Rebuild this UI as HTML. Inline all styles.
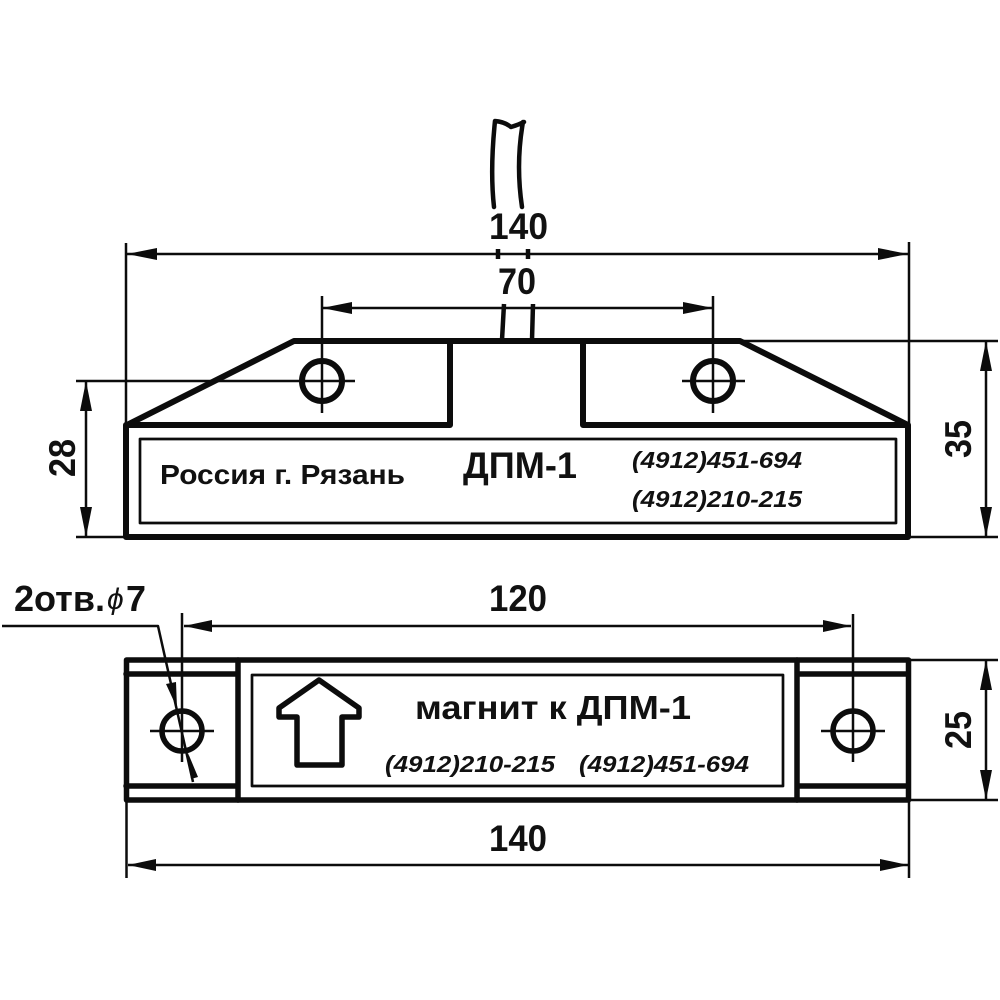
<!DOCTYPE html>
<html><head><meta charset="utf-8"><style>html,body{margin:0;padding:0;background:#fff}svg{display:block}text{font-family:"Liberation Sans","Noto Sans CJK SC",sans-serif;font-weight:bold;fill:#111}.it{font-style:italic}</style></head>
<body>
<svg width="1000" height="1000" viewBox="0 0 1000 1000" xmlns="http://www.w3.org/2000/svg">
<rect width="1000" height="1000" fill="#fff"/>
<g fill="none" stroke="#0c0c0c" stroke-linecap="round" stroke-linejoin="round">
<!-- cable -->
<g stroke-width="4.500">
<path d="M495 121C492 150 491 180 494 207M523 122C518 150 518 180 522 207M495 121Q505 122 511 127Q518 125 524 122"/>
<path d="M498 249V259M528 249V259" stroke-linecap="butt"/>
<path d="M504 304L502 340M533 304L532 340" stroke-linecap="butt"/>
</g>
<!-- top view body -->
<g stroke-width="6">
<path d="M127 425L294 341H740L908 425V537H126V425H450V341M583 341V425H908"/>
<circle cx="322" cy="381" r="20"/>
<circle cx="713" cy="381" r="20"/>
</g>
<rect x="140" y="439" width="756" height="84" stroke-width="2.700"/>
<!-- thin lines -->
<g stroke-width="2.500" stroke-linecap="butt">
<path d="M126 243V426M909 242V426M127 254H908M322 308H713M322 296V413M713 296V413M682 381H745"/>
<path d="M76 381H355M76 537H126M740 341H998M908 537H998M86 381V537M986 341V537"/>
<path d="M182 613V762M853 614V762M150 731H214M821 731H885M184 626H851"/>
<path d="M126.500 800V878M909 800V878M128 865H908M908 660H998M908 800H998M986 660V800"/>
<path d="M2 626H158L193 782"/>
</g>
<!-- bottom view -->
<g stroke-width="5.500">
<rect x="126.500" y="660" width="782" height="140"/>
<path d="M238 660V800M797 660V800M126 674H238M126 786H238M797 674H908M797 786H908"/>
<circle cx="182" cy="731" r="20"/>
<circle cx="853" cy="731" r="20"/>
<path d="M319 680L359 708V717H342V765H297V717H279V708Z"/>
</g>
<rect x="252" y="675" width="531" height="111" stroke-width="2.700"/>
</g>
<!-- arrowheads -->
<g fill="#0c0c0c">
<path d="M127 254L157 248V260ZM908 254L878 248V260Z"/>
<path d="M322 308L352 302V314ZM713 308L683 302V314Z"/>
<path d="M986 341L980 371H992ZM986 537L980 507H992Z"/>
<path d="M86 381L80 411H92ZM86 537L80 507H92Z"/>
<path d="M184 626L212 620V632ZM851 626L823 620V632Z"/>
<path d="M128 865L156 859V871ZM908 865L880 859V871Z"/>
<path d="M986 660L980 690H992ZM986 800L980 770H992Z"/>
<path d="M177 708L166 684L176 682ZM188 753L198 777L191 779Z"/>
</g>
<!-- labels -->
<text x="489" y="239" font-size="37" textLength="59" lengthAdjust="spacingAndGlyphs">140</text>
<text x="498" y="294" font-size="37" textLength="38" lengthAdjust="spacingAndGlyphs">70</text>
<text x="160" y="484" font-size="28" textLength="245" lengthAdjust="spacingAndGlyphs">Россия г. Рязань</text>
<text x="463" y="478" font-size="37" textLength="114" lengthAdjust="spacingAndGlyphs">ДПМ-1</text>
<text class="it" x="632" y="468" font-size="23.500" textLength="170" lengthAdjust="spacingAndGlyphs">(4912)451-694</text>
<text class="it" x="632" y="507" font-size="23.500" textLength="170" lengthAdjust="spacingAndGlyphs">(4912)210-215</text>
<text transform="translate(75 477) rotate(-90)" font-size="37" textLength="38" lengthAdjust="spacingAndGlyphs">28</text>
<text transform="translate(971 458) rotate(-90)" font-size="37" textLength="38" lengthAdjust="spacingAndGlyphs">35</text>
<text x="14" y="611" font-size="36" textLength="91" lengthAdjust="spacingAndGlyphs">2отв.</text>
<text class="it" x="107" y="609" font-size="30" style="font-weight:normal">ϕ</text>
<text x="126" y="611" font-size="36" textLength="20" lengthAdjust="spacingAndGlyphs">7</text>
<text x="489" y="611" font-size="37" textLength="58" lengthAdjust="spacingAndGlyphs">120</text>
<text x="489" y="851" font-size="37" textLength="58" lengthAdjust="spacingAndGlyphs">140</text>
<text x="415" y="719" font-size="33" textLength="276" lengthAdjust="spacingAndGlyphs">магнит к ДПМ-1</text>
<text class="it" x="385" y="772" font-size="23.500" textLength="170" lengthAdjust="spacingAndGlyphs">(4912)210-215</text>
<text class="it" x="579" y="772" font-size="23.500" textLength="170" lengthAdjust="spacingAndGlyphs">(4912)451-694</text>
<text transform="translate(971 749) rotate(-90)" font-size="37" textLength="38" lengthAdjust="spacingAndGlyphs">25</text>
</svg>
</body></html>
